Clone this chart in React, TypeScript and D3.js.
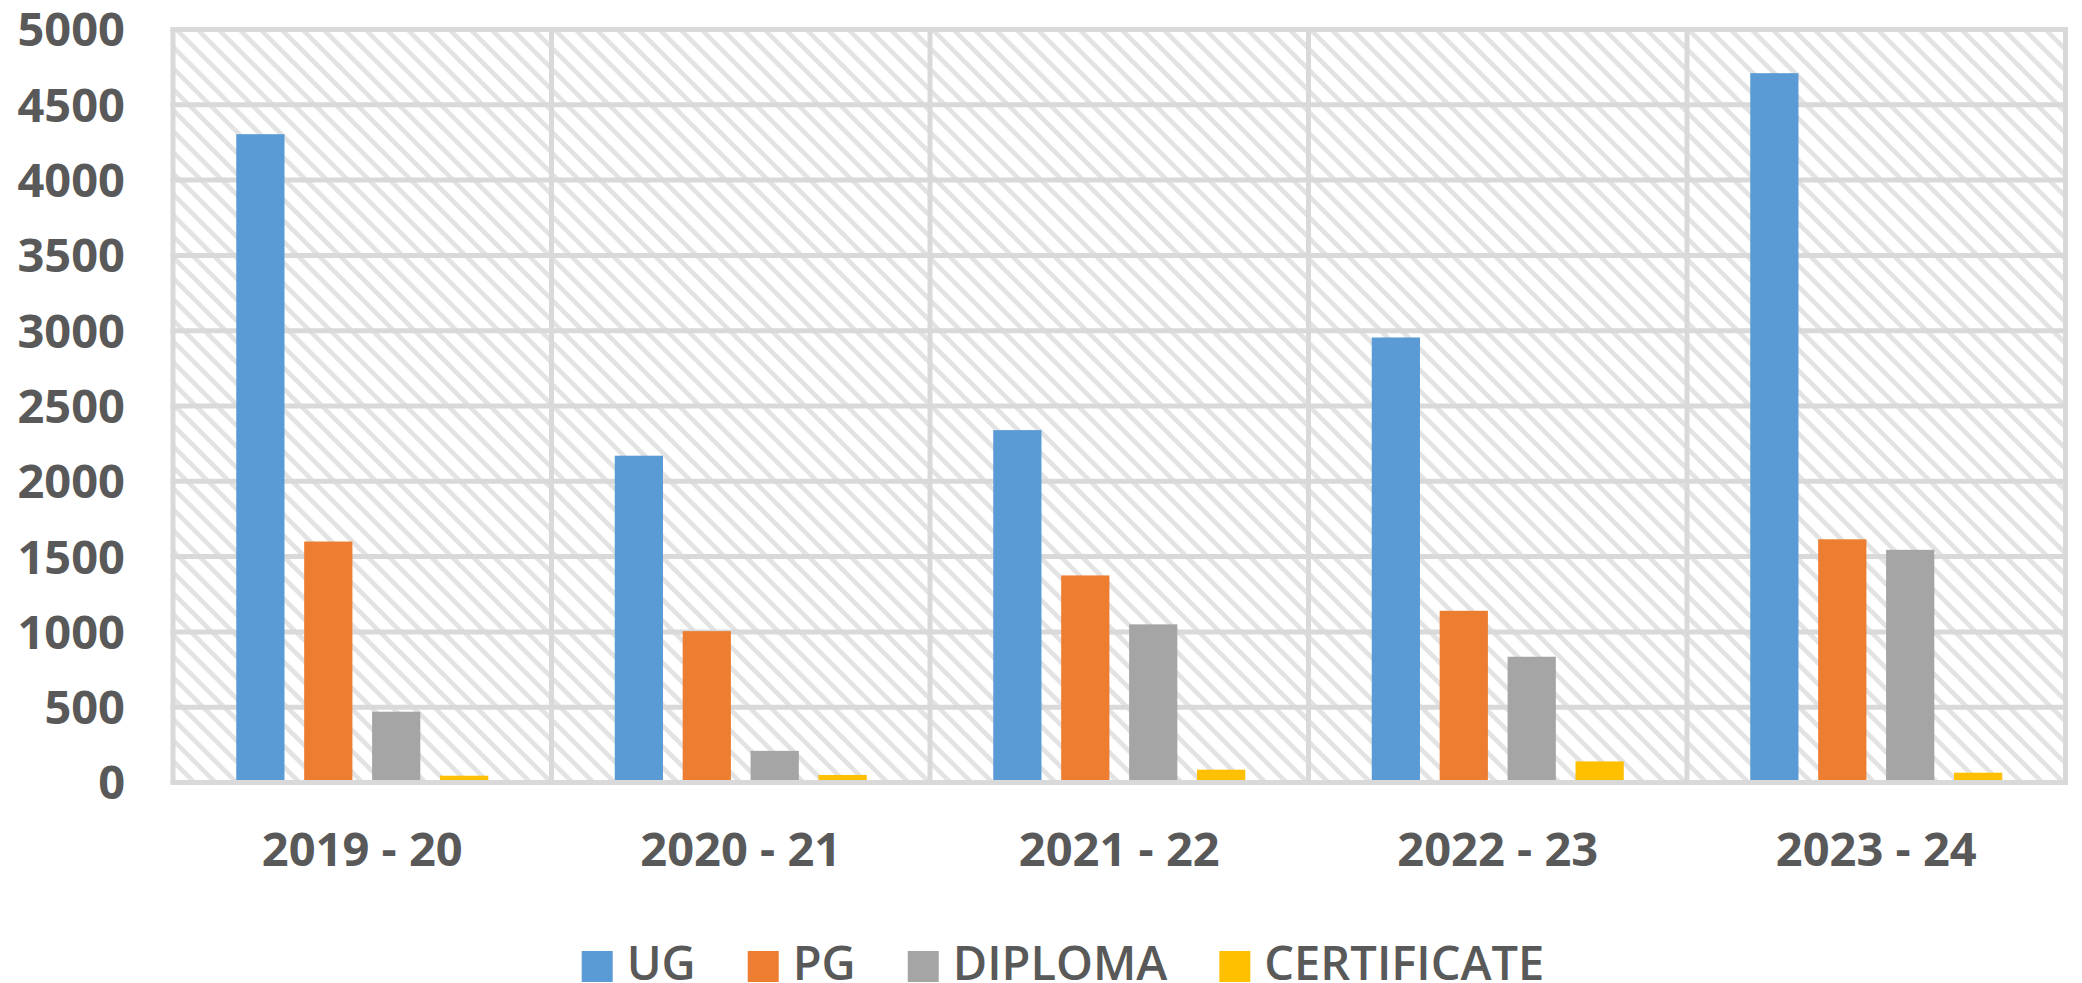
import { useEffect, useRef } from 'react';
import * as d3 from 'd3';

const categories = ["2019 - 20", "2020 - 21", "2021 - 22", "2022 - 23", "2023 - 24"];
const seriesNames = ["UG", "PG", "DIPLOMA", "CERTIFICATE"];
const ugValues = [4305, 2170, 2340, 2955, 4710];
const pgValues = [1600, 1005, 1375, 1140, 1615];
const diplomaValues = [470, 210, 1050, 835, 1545];
const certificateValues = [45, 50, 85, 140, 65];
const yTicks = [0, 500, 1000, 1500, 2000, 2500, 3000, 3500, 4000, 4500, 5000];
const colors = ["#5b9bd5", "#ed7d31", "#a5a5a5", "#ffc000"];

const W = 2082;
const H = 983;

export default function App() {
  const svgRef = useRef<SVGSVGElement>(null);

  useEffect(() => {
    if (!svgRef.current) return;
    document.body.style.margin = "0";
    document.body.style.overflow = "hidden";

    const root = d3.select(svgRef.current);
    root.selectAll("*").remove();

    const series = [ugValues, pgValues, diplomaValues, certificateValues];
    const plot = { left: 173, right: 2065.5, top: 29.5, bottom: 782.5 };
    const grid = "#d9d9d9";
    const textColor = "#595959";
    const font = "'Open Sans', 'DejaVu Sans', sans-serif";

    // hatch pattern for the plot background (downward diagonal)
    const p = 21;
    const h = 3.3;
    const hatchColor = "#e3e3e3";
    const pattern = root.append("defs")
      .append("pattern")
      .attr("id", "hatch")
      .attr("patternUnits", "userSpaceOnUse")
      .attr("width", p)
      .attr("height", p);
    pattern.append("rect").attr("width", p).attr("height", p).style("fill", "#ffffff");
    pattern.append("polygon")
      .attr("points", `0,0 ${h},0 ${p},${p - h} ${p},${p} ${p - h},${p} 0,${h}`)
      .style("fill", hatchColor);
    pattern.append("polygon")
      .attr("points", `${p - h},0 ${p},0 ${p},${h}`)
      .style("fill", hatchColor);
    pattern.append("polygon")
      .attr("points", `0,${p - h} 0,${p} ${h},${p}`)
      .style("fill", hatchColor);

    const x0 = d3.scaleBand()
      .domain(categories)
      .range([plot.left, plot.right])
      .padding(0);

    const x1 = d3.scaleBand()
      .domain(seriesNames)
      .range([63.25, x0.bandwidth() - 63.25])
      .paddingInner(0.29)
      .paddingOuter(0);

    const y = d3.scaleLinear()
      .domain([0, 5000])
      .range([plot.bottom, plot.top]);

    const svg = root.append("g");

    // background
    svg.append("rect")
      .attr("x", plot.left)
      .attr("y", plot.top)
      .attr("width", plot.right - plot.left)
      .attr("height", plot.bottom - plot.top)
      .style("fill", "url(#hatch)");

    // horizontal grid lines
    svg.selectAll(".hgrid")
      .data(yTicks)
      .enter()
      .append("line")
      .attr("class", "hgrid")
      .attr("x1", plot.left - 2.5)
      .attr("x2", plot.right + 2.5)
      .attr("y1", d => y(d))
      .attr("y2", d => y(d))
      .style("stroke", grid)
      .style("stroke-width", 5);

    // vertical grid lines at category boundaries
    const bounds = categories.map(c => x0(c)!).concat([plot.right]);
    svg.selectAll(".vgrid")
      .data(bounds)
      .enter()
      .append("line")
      .attr("class", "vgrid")
      .attr("x1", d => d)
      .attr("x2", d => d)
      .attr("y1", plot.top - 2.5)
      .attr("y2", plot.bottom + 2.5)
      .style("stroke", grid)
      .style("stroke-width", 5);

    // bars
    const groups = svg.selectAll(".cat")
      .data(categories)
      .enter()
      .append("g")
      .attr("class", "cat")
      .attr("transform", d => `translate(${x0(d)},0)`);

    groups.selectAll("rect")
      .data((_, i) => seriesNames.map((s, j) => ({ s, v: series[j][i], c: colors[j] })))
      .enter()
      .append("rect")
      .attr("x", d => x1(d.s)!)
      .attr("width", x1.bandwidth())
      .attr("y", d => y(d.v))
      .attr("height", d => y(0) - 2.5 - y(d.v))
      .style("fill", d => d.c);

    // y tick labels
    svg.selectAll(".ylab")
      .data(yTicks)
      .enter()
      .append("text")
      .attr("class", "ylab")
      .attr("x", 125)
      .attr("y", d => y(d))
      .attr("dy", "0.36em")
      .attr("text-anchor", "end")
      .style("font-family", font)
      .style("font-weight", 700)
      .style("font-size", "47px")
      .style("fill", textColor)
      .text(d => d);

    // x category labels
    svg.selectAll(".xlab")
      .data(categories)
      .enter()
      .append("text")
      .attr("class", "xlab")
      .attr("x", d => x0(d)! + x0.bandwidth() / 2)
      .attr("y", 866)
      .attr("text-anchor", "middle")
      .style("font-family", font)
      .style("font-weight", 700)
      .style("font-size", "47px")
      .style("fill", textColor)
      .text(d => d);

    // legend
    const legend = svg.append("g");
    const sw = 31;
    const gap = 14;
    const spacing = 52;
    let cx = 0;
    seriesNames.forEach((name, i) => {
      legend.append("rect")
        .attr("x", cx)
        .attr("y", 951)
        .attr("width", sw)
        .attr("height", sw)
        .style("fill", colors[i]);
      const t = legend.append("text")
        .attr("x", cx + sw + gap)
        .attr("y", 979.5)
        .style("font-family", font)
        .style("font-weight", 600)
        .style("font-size", "47px")
        .style("fill", textColor)
        .text(name);
      const len = (t.node() as SVGTextElement).getComputedTextLength();
      cx += sw + gap + len + spacing;
    });
    const total = cx - spacing;
    legend.attr("transform", `translate(${1063 - total / 2},0)`);
  }, []);

  return (
    <svg ref={svgRef} width={W} height={H} style={{ display: "block", background: "#ffffff" }} />
  );
}
